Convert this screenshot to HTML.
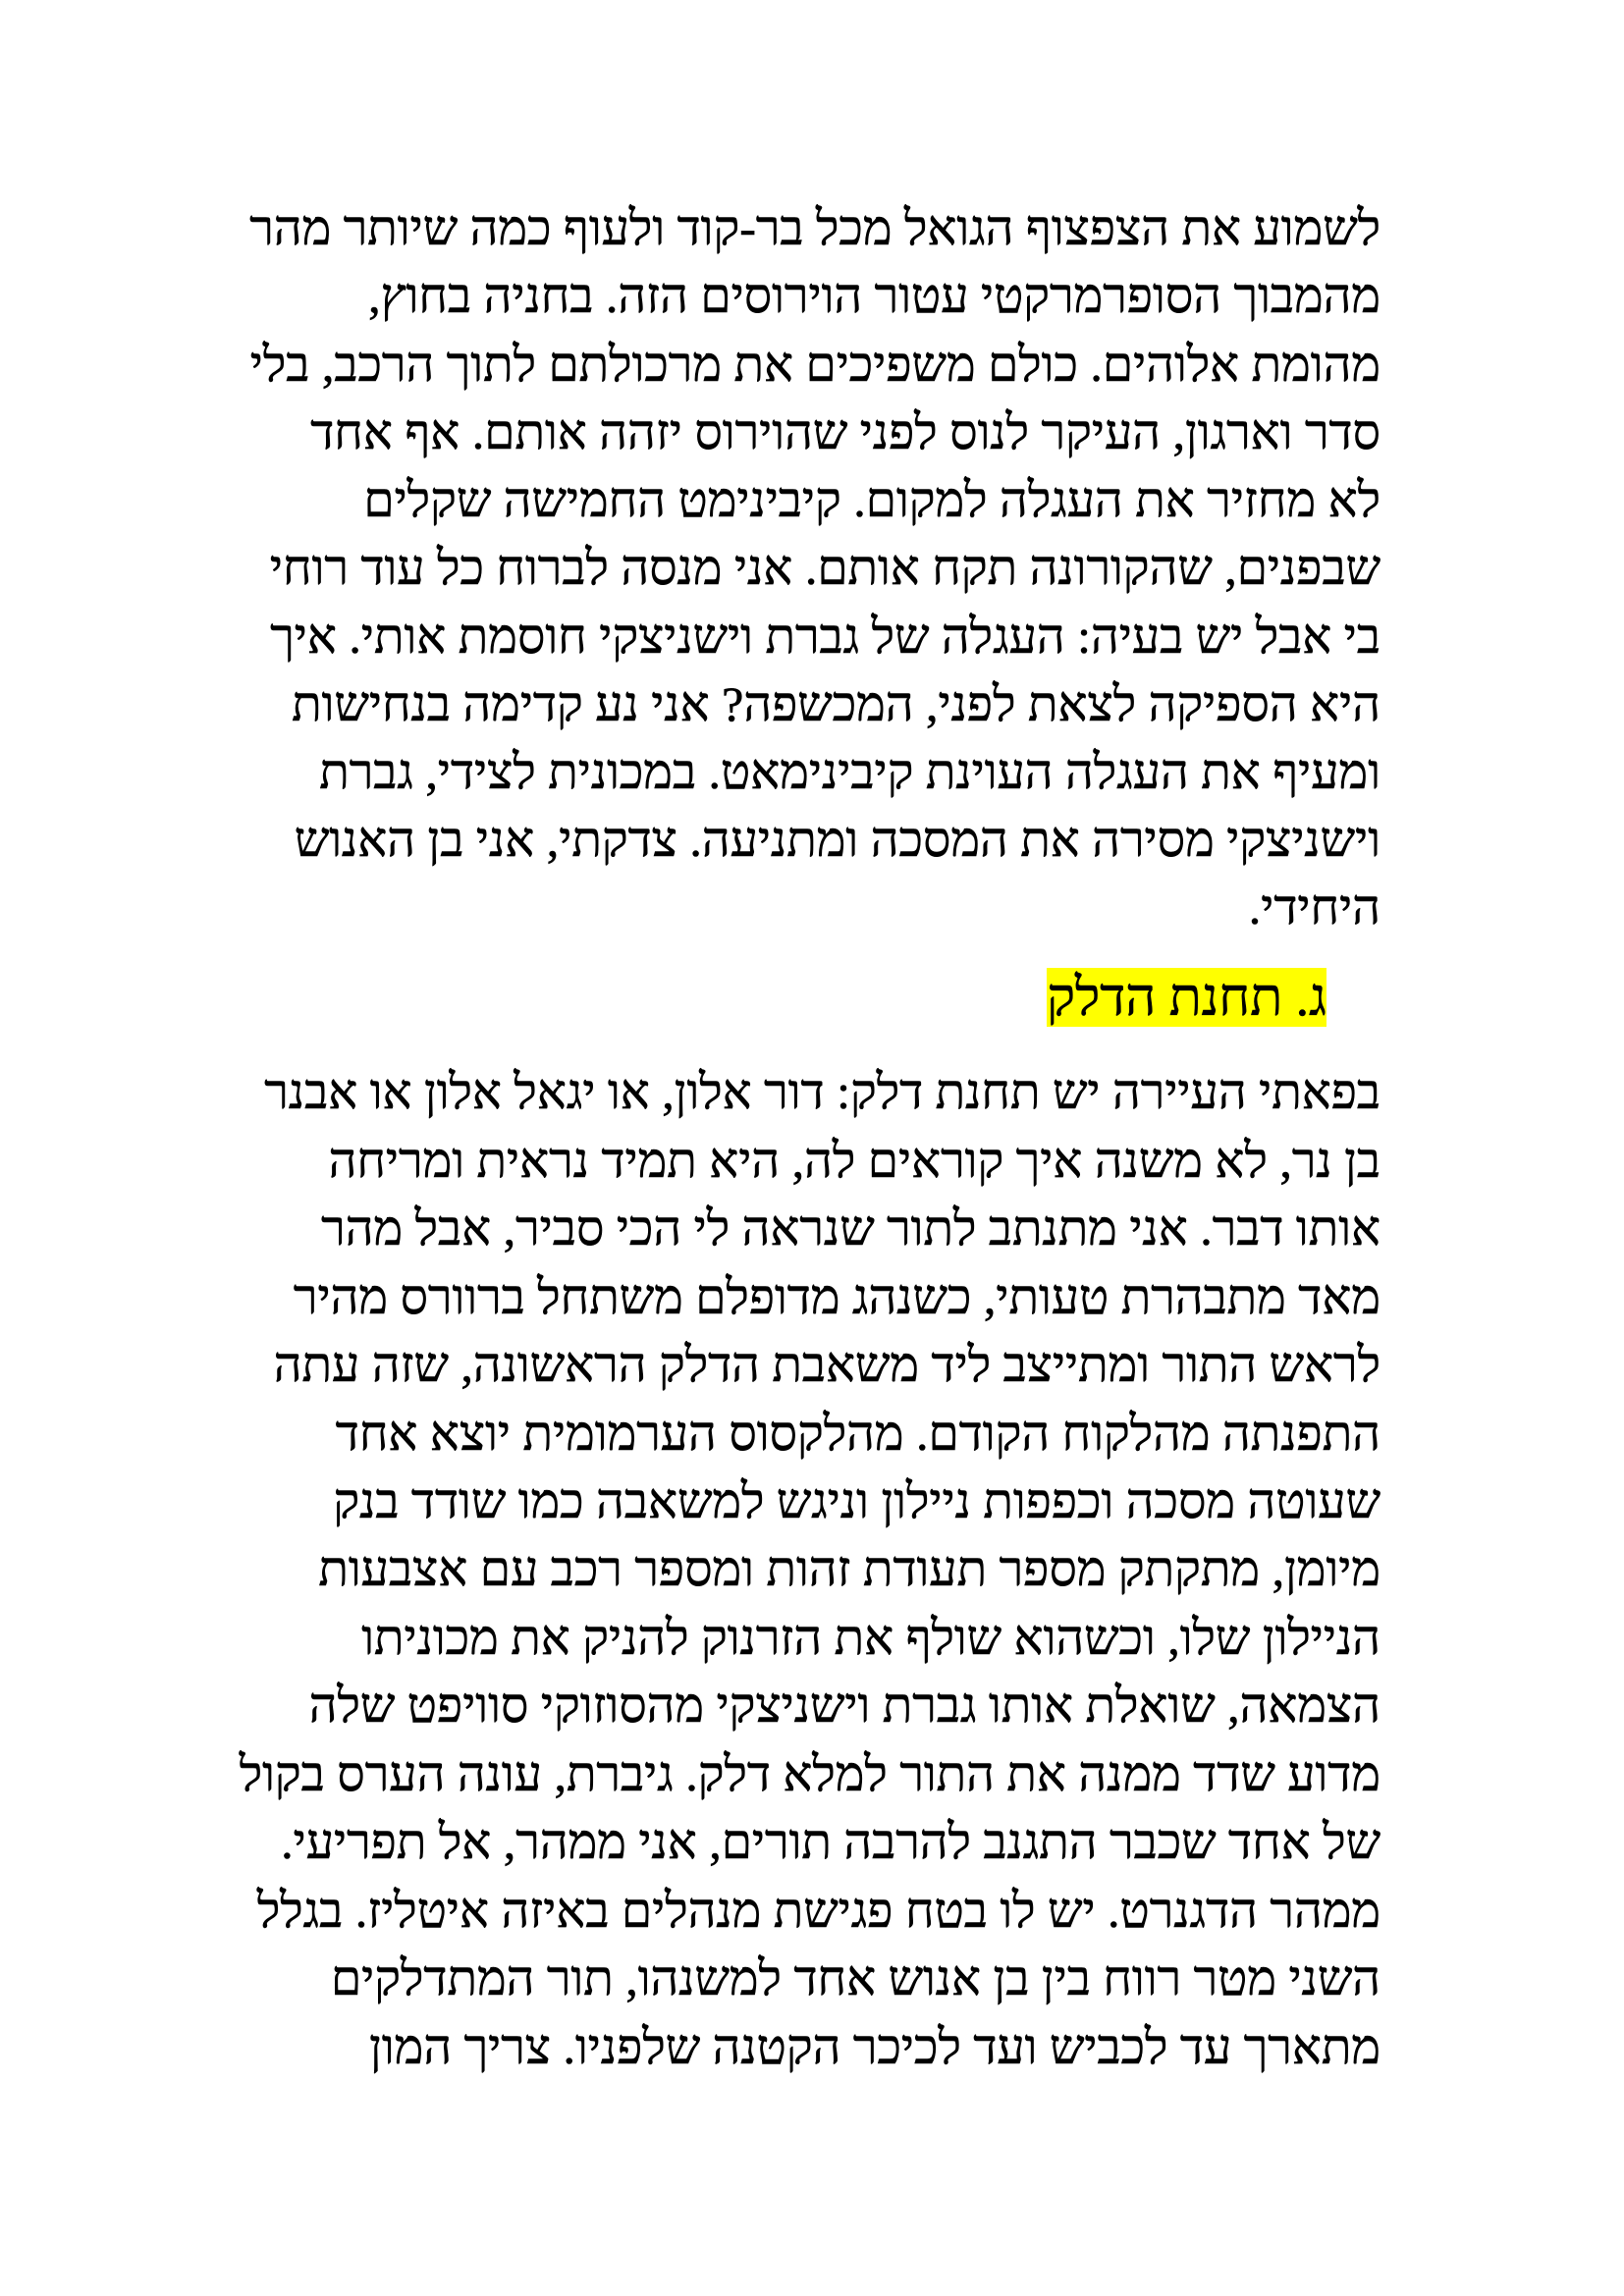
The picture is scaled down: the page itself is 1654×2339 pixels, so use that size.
<!DOCTYPE html>
<html><head><meta charset="utf-8"><style>
html,body{margin:0;padding:0;background:#fff;}
body{width:1654px;height:2339px;position:relative;overflow:hidden;}
.l{position:absolute;right:248px;white-space:nowrap;direction:rtl;text-align:right;font-family:"Liberation Serif","DejaVu Serif",serif;font-size:50px;line-height:69px;color:#000;-webkit-text-stroke:0.6px #000;}
.h{right:303px;font-size:54px;}
.h span{background:#ffff00;}
</style></head><body>
<div class="l" style="top:198px">לשמוע את הצפצוף הגואל מכל בר-קוד ולעוף כמה שיותר מהר</div>
<div class="l" style="top:267px">מהמבוך הסופרמרקטי עטור הוירוסים הזה. בחניה בחוץ,</div>
<div class="l" style="top:337px">מהומת אלוהים. כולם משפיכים את מרכולתם לתוך הרכב, בלי</div>
<div class="l" style="top:406px">סדר וארגון, העיקר לנוס לפני שהוירוס יזהה אותם. אף אחד</div>
<div class="l" style="top:475px">לא מחזיר את העגלה למקום. קיבינימט החמישה שקלים</div>
<div class="l" style="top:544px">שבפנים, שהקורונה תקח אותם. אני מנסה לברוח כל עוד רוחי</div>
<div class="l" style="top:614px">בי אבל יש בעיה: העגלה של גברת וישניצקי חוסמת אותי. איך</div>
<div class="l" style="top:683px">היא הספיקה לצאת לפני, המכשפה? אני נע קדימה בנחישות</div>
<div class="l" style="top:752px">ומעיף את העגלה העוינת קיבינימאט. במכונית לצידי, גברת</div>
<div class="l" style="top:821px">וישניצקי מסירה את המסכה ומתניעה. צדקתי, אני בן האנוש</div>
<div class="l" style="top:890px">היחידי.</div>
<div class="l h" style="top:981px;line-height:70px"><span>ג. תחנת הדלק</span></div>
<div class="l" style="top:1078px">בפאתי העיירה יש תחנת דלק: דור אלון, או יגאל אלון או אבנר</div>
<div class="l" style="top:1148px">בן נר, לא משנה איך קוראים לה, היא תמיד נראית ומריחה</div>
<div class="l" style="top:1217px">אותו דבר. אני מתנתב לתור שנראה לי הכי סביר, אבל מהר</div>
<div class="l" style="top:1287px">מאד מתבהרת טעותי, כשנהג מדופלם משתחל ברוורס מהיר</div>
<div class="l" style="top:1356px">לראש התור ומתייצב ליד משאבת הדלק הראשונה, שזה עתה</div>
<div class="l" style="top:1426px">התפנתה מהלקוח הקודם. מהלקסוס הערמומית יוצא אחד</div>
<div class="l" style="top:1495px">שעוטה מסכה וכפפות ניילון וניגש למשאבה כמו שודד בנק</div>
<div class="l" style="top:1564px">מיומן, מתקתק מספר תעודת זהות ומספר רכב עם אצבעות</div>
<div class="l" style="top:1634px">הניילון שלו, וכשהוא שולף את הזרנוק להניק את מכוניתו</div>
<div class="l" style="top:1703px">הצמאה, שואלת אותו גברת וישניצקי מהסוזוקי סוויפט שלה</div>
<div class="l" style="top:1773px">מדוע שדד ממנה את התור למלא דלק. גיברת, עונה הערס בקול</div>
<div class="l" style="top:1842px">של אחד שכבר התגנב להרבה תורים, אני ממהר, אל תפריעי.</div>
<div class="l" style="top:1912px">ממהר הדגנרט. יש לו בטח פגישת מנהלים באיזה איטליז. בגלל</div>
<div class="l" style="top:1981px">השני מטר רווח בין בן אנוש אחד למשנהו, תור המתדלקים</div>
<div class="l" style="top:2051px">מתארך עד לכביש ועד לכיכר הקטנה שלפניו. צריך המון</div>
</body></html>
